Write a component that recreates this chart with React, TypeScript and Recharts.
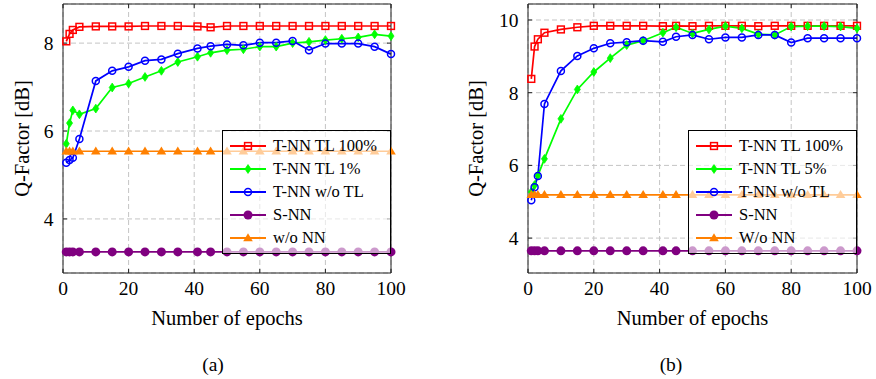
import { CartesianGrid, Legend, Line, LineChart, XAxis, YAxis } from 'recharts';

const FONT = '"Liberation Serif", "Times New Roman", Times, serif';

const EPOCHS = [1, 2, 3, 5, 10, 15, 20, 25, 30, 35, 41, 45, 50, 55, 60, 65, 70, 75, 80, 85, 90, 95, 100];
const X_TICKS = [0, 20, 40, 60, 80, 100];

// panel (a)
const A_TL100 = [8.04, 8.21, 8.3, 8.37, 8.38, 8.38, 8.38, 8.39, 8.39, 8.39, 8.38, 8.36, 8.39, 8.39, 8.39, 8.39, 8.39, 8.39, 8.39, 8.39, 8.39, 8.39, 8.39];
const A_TL1 = [5.71, 6.18, 6.47, 6.38, 6.51, 6.99, 7.08, 7.23, 7.37, 7.57, 7.69, 7.78, 7.84, 7.86, 7.92, 7.92, 8.0, 8.03, 8.07, 8.1, 8.13, 8.2, 8.16];
const A_NOTL = [5.28, 5.34, 5.39, 5.82, 7.14, 7.37, 7.46, 7.6, 7.63, 7.76, 7.88, 7.93, 7.97, 7.95, 8.01, 8.01, 8.05, 7.84, 7.99, 7.99, 7.99, 7.92, 7.75];
const A_SNN = [3.25, 3.25, 3.25, 3.25, 3.25, 3.25, 3.25, 3.25, 3.25, 3.25, 3.25, 3.25, 3.25, 3.25, 3.25, 3.25, 3.25, 3.25, 3.25, 3.25, 3.25, 3.25, 3.25];
const A_WONN = [5.54, 5.54, 5.54, 5.54, 5.54, 5.54, 5.54, 5.54, 5.54, 5.54, 5.54, 5.54, 5.54, 5.54, 5.54, 5.54, 5.54, 5.54, 5.54, 5.54, 5.54, 5.54, 5.54];
const A_Y_TICKS = [4, 6, 8];

// panel (b)
const B_TL100 = [8.38, 9.27, 9.47, 9.65, 9.74, 9.8, 9.84, 9.84, 9.84, 9.84, 9.83, 9.84, 9.83, 9.84, 9.84, 9.84, 9.83, 9.84, 9.84, 9.84, 9.84, 9.84, 9.84];
const B_TL5 = [5.27, 5.46, 5.72, 6.18, 7.28, 8.09, 8.57, 8.95, 9.31, 9.43, 9.65, 9.8, 9.63, 9.74, 9.83, 9.77, 9.61, 9.59, 9.82, 9.83, 9.83, 9.82, 9.77];
const B_NOTL = [5.04, 5.4, 5.71, 7.69, 8.6, 9.01, 9.22, 9.36, 9.39, 9.43, 9.4, 9.54, 9.59, 9.47, 9.52, 9.52, 9.59, 9.59, 9.38, 9.5, 9.5, 9.5, 9.5];
const B_SNN = [3.65, 3.65, 3.65, 3.65, 3.65, 3.65, 3.65, 3.65, 3.65, 3.65, 3.65, 3.65, 3.65, 3.65, 3.65, 3.65, 3.65, 3.65, 3.65, 3.65, 3.65, 3.65, 3.65];
const B_WONN = [5.19, 5.19, 5.19, 5.19, 5.19, 5.19, 5.19, 5.19, 5.19, 5.19, 5.19, 5.19, 5.19, 5.19, 5.19, 5.19, 5.19, 5.19, 5.19, 5.19, 5.19, 5.19, 5.19];
const B_Y_TICKS = [4, 6, 8, 10];

type MarkerKind = 'square' | 'diamond' | 'circle' | 'dot' | 'triangle';

interface Series {
  key: string;
  name: string;
  color: string;
  marker: MarkerKind;
  values: number[];
}

const SERIES_A: Series[] = [
  { key: 'tl100', name: 'T-NN TL 100%', color: '#ff0000', marker: 'square', values: A_TL100 },
  { key: 'tl', name: 'T-NN TL 1%', color: '#00ff00', marker: 'diamond', values: A_TL1 },
  { key: 'notl', name: 'T-NN w/o TL', color: '#0000ff', marker: 'circle', values: A_NOTL },
  { key: 'snn', name: 'S-NN', color: '#800080', marker: 'dot', values: A_SNN },
  { key: 'wonn', name: 'w/o NN', color: '#ff8000', marker: 'triangle', values: A_WONN },
];

const SERIES_B: Series[] = [
  { key: 'tl100', name: 'T-NN TL 100%', color: '#ff0000', marker: 'square', values: B_TL100 },
  { key: 'tl', name: 'T-NN TL 5%', color: '#00ff00', marker: 'diamond', values: B_TL5 },
  { key: 'notl', name: 'T-NN w/o TL', color: '#0000ff', marker: 'circle', values: B_NOTL },
  { key: 'snn', name: 'S-NN', color: '#800080', marker: 'dot', values: B_SNN },
  { key: 'wonn', name: 'W/o NN', color: '#ff8000', marker: 'triangle', values: B_WONN },
];

function Marker({ kind, color, cx, cy }: { kind: MarkerKind; color: string; cx: number; cy: number }) {
  switch (kind) {
    case 'square':
      return <rect x={cx - 3.4} y={cy - 3.4} width={6.8} height={6.8} fill="none" stroke={color} strokeWidth={1.5} />;
    case 'diamond':
      return (
        <polygon
          points={`${cx},${cy - 4.4} ${cx + 3},${cy} ${cx},${cy + 4.4} ${cx - 3},${cy}`}
          fill={color}
          stroke={color}
          strokeWidth={0.8}
        />
      );
    case 'circle':
      return <circle cx={cx} cy={cy} r={3.5} fill="none" stroke={color} strokeWidth={1.5} />;
    case 'dot':
      return <circle cx={cx} cy={cy} r={4.5} fill={color} />;
    default:
      return <polygon points={`${cx},${cy - 4.8} ${cx + 4.8},${cy + 3.2} ${cx - 4.8},${cy + 3.2}`} fill={color} />;
  }
}

function LegendBox({ series }: { series: Series[] }) {
  return (
    <div
      style={{
        width: '100%',
        height: '100%',
        boxSizing: 'border-box',
        border: '1px solid #000',
        background: 'rgba(255,255,255,0.6)',
        paddingTop: 3,
        fontFamily: FONT,
        fontSize: 16.5,
        color: '#000',
      }}
    >
      {series.map((s) => (
        <div key={s.key} style={{ display: 'flex', alignItems: 'center', height: 23.1 }}>
          <svg width={50} height={14} style={{ flex: 'none' }}>
            <line x1={7} x2={43} y1={7} y2={7} stroke={s.color} strokeWidth={1.8} />
            <Marker kind={s.marker} color={s.color} cx={25} cy={7} />
          </svg>
          <span style={{ whiteSpace: 'nowrap', fontFamily: FONT }}>{s.name}</span>
        </div>
      ))}
    </div>
  );
}

interface PanelProps {
  series: Series[];
  width: number;
  yDomain: [number, number];
  yTicks: number[];
  margin: { top: number; right: number; bottom: number; left: number };
  legendLeft: number;
  legendWidth: number;
  yLabelGap: number;
}

const tickStyle = { fontFamily: FONT, fontSize: 19.5, fill: '#000' };

function Panel({ series, width, yDomain, yTicks, margin, legendLeft, legendWidth, yLabelGap }: PanelProps) {
  const rows = EPOCHS.map((epoch, i) => {
    const row: Record<string, number> = { epoch };
    series.forEach((s) => {
      row[s.key] = s.values[i];
    });
    return row;
  });

  return (
    <LineChart width={width} height={379} data={rows} margin={margin}>
      <CartesianGrid stroke="#c4c4c4" strokeDasharray="5 3" />
      <XAxis
        dataKey="epoch"
        type="number"
        domain={[0, 100]}
        ticks={X_TICKS}
        height={1}
        tickSize={-4}
        tickMargin={12.5}
        tick={tickStyle}
        stroke="#222"
        label={{
          content: (props: any) => {
            const vb = props.viewBox;
            return (
              <text x={vb.x + vb.width / 2} y={vb.y + 52} textAnchor="middle" fontFamily={FONT} fontSize={20.5} fill="#000">
                Number of epochs
              </text>
            );
          },
        }}
      />
      <XAxis
        xAxisId="top"
        orientation="top"
        dataKey="epoch"
        type="number"
        domain={[0, 100]}
        ticks={X_TICKS}
        height={1}
        tickSize={-4}
        tickFormatter={() => ''}
        stroke="#222"
      />
      <YAxis
        type="number"
        domain={yDomain}
        ticks={yTicks}
        width={1}
        tickSize={-4}
        tickMargin={13.5}
        tick={tickStyle}
        stroke="#222"
        allowDataOverflow
        label={{
          content: (props: any) => {
            const vb = props.viewBox;
            const x = vb.x + vb.width - yLabelGap;
            const y = vb.y + vb.height / 2;
            return (
              <text x={x} y={y} transform={`rotate(-90 ${x} ${y})`} textAnchor="middle" fontFamily={FONT} fontSize={20.5} fill="#000">
                Q-Factor [dB]
              </text>
            );
          },
        }}
      />
      <YAxis
        yAxisId="right"
        orientation="right"
        type="number"
        domain={yDomain}
        ticks={yTicks}
        width={1}
        tickSize={-4}
        tickFormatter={() => ''}
        stroke="#222"
        allowDataOverflow
      />
      {series.map((s) => (
        <Line
          key={s.key}
          dataKey={s.key}
          name={s.name}
          stroke={s.color}
          strokeWidth={1.7}
          isAnimationActive={false}
          dot={(p: any) => <Marker key={`${s.key}-${p.index}`} kind={s.marker} color={s.color} cx={p.cx} cy={p.cy} />}
          activeDot={false}
        />
      ))}
      <Legend
        layout="vertical"
        align="center"
        verticalAlign="middle"
        wrapperStyle={{ left: legendLeft, top: 130, width: legendWidth, height: 124 }}
        content={() => <LegendBox series={series} />}
      />
    </LineChart>
  );
}

const captionStyle = {
  position: 'absolute' as const,
  top: 354,
  width: 40,
  textAlign: 'center' as const,
  fontFamily: FONT,
  fontSize: 19.5,
  color: '#000',
};

export default function App() {
  return (
    <div style={{ position: 'absolute', left: 0, top: 0, width: 876, height: 379, background: '#fff' }}>
      <div style={{ position: 'absolute', left: 0, top: 0 }}>
        <Panel
          series={SERIES_A}
          width={420}
          yDomain={[2.77, 8.89]}
          yTicks={A_Y_TICKS}
          margin={{ top: 3, right: 28, bottom: 105, left: 62 }}
          legendLeft={222}
          legendWidth={169}
          yLabelGap={34}
        />
      </div>
      <div style={{ position: 'absolute', left: 440, top: 0 }}>
        <Panel
          series={SERIES_B}
          width={436}
          yDomain={[3.04, 10.44]}
          yTicks={B_Y_TICKS}
          margin={{ top: 3, right: 18, bottom: 105, left: 87 }}
          legendLeft={248}
          legendWidth={169}
          yLabelGap={45.5}
        />
      </div>
      <div style={{ ...captionStyle, left: 193 }}>(a)</div>
      <div style={{ ...captionStyle, left: 651 }}>(b)</div>
    </div>
  );
}
